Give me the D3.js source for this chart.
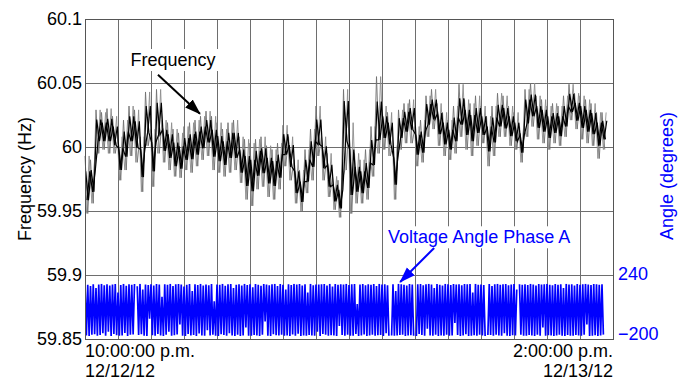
<!DOCTYPE html>
<html>
<head>
<meta charset="utf-8">
<script src="https://cdn.jsdelivr.net/npm/d3@7"></script>
<style>
  body { margin: 0; background: #fff; }
  svg text { font-family: "Liberation Sans", Arial, sans-serif; font-size: 18px; }
</style>
</head>
<body>
<div id="chart"></div>
<script>
// time span of the record
const startTime = new Date(2012, 11, 12, 22, 0);
const endTime = new Date(2012, 11, 13, 14, 0);

// frequency (Hz), one sample every 10 minutes: upper spike, lower spike, dense core
const freqStepMinutes = 10;
const freqHigh = [
  59.993, 59.990, 60.029, 60.027, 60.030, 60.024, 60.008, 60.021, 60.032, 60.029,
  60.008, 60.043, 60.014, 60.045, 60.021, 60.019, 60.014, 60.011, 60.016, 60.019,
  60.021, 60.024, 60.028, 60.024, 60.019, 60.014, 60.019, 60.021, 60.008, 60.006,
  60.003, 60.006, 60.008, 60.001, 59.998, 60.003, 60.017, 60.008, 59.990, 59.982,
  59.998, 60.014, 60.032, 60.008, 59.995, 59.977, 59.974, 60.045, 60.019, 59.995,
  59.990, 59.998, 60.016, 60.055, 60.032, 60.027, 60.001, 60.029, 60.034, 60.037,
  60.016, 60.021, 60.040, 60.045, 60.034, 60.027, 60.021, 60.032, 60.049, 60.037,
  60.034, 60.040, 60.032, 60.024, 60.032, 60.042, 60.040, 60.032, 60.027, 60.016,
  60.045, 60.050, 60.040, 60.037, 60.032, 60.034, 60.032, 60.040, 60.049, 60.042,
  60.040, 60.037, 60.034, 60.027, 60.027
];
const freqLow = [
  59.948, 59.956, 59.995, 59.998, 59.995, 59.995, 59.974, 59.982, 59.993, 59.988,
  59.965, 60.001, 59.969, 59.995, 59.988, 59.982, 59.977, 59.976, 59.982, 59.980,
  59.985, 59.990, 59.993, 59.982, 59.980, 59.977, 59.980, 59.982, 59.972, 59.959,
  59.954, 59.967, 59.969, 59.961, 59.959, 59.967, 59.985, 59.974, 59.956, 59.950,
  59.964, 59.974, 59.993, 59.974, 59.961, 59.951, 59.945, 59.982, 59.948, 59.956,
  59.956, 59.959, 59.977, 59.995, 59.998, 59.993, 59.959, 59.998, 60.003, 60.003,
  59.985, 59.988, 60.008, 60.014, 60.001, 59.993, 59.990, 59.995, 60.008, 59.998,
  59.993, 60.001, 60.003, 59.985, 59.993, 60.008, 60.008, 60.001, 59.998, 59.988,
  60.008, 60.016, 60.006, 60.003, 59.998, 60.003, 60.001, 60.008, 60.021, 60.014,
  60.006, 60.003, 60.001, 59.991, 59.998
];
const freqCore = [
  59.969, 59.974, 60.014, 60.011, 60.014, 60.008, 59.990, 60.003, 60.016, 60.011,
  59.988, 60.021, 59.993, 60.024, 60.006, 60.001, 59.993, 59.990, 59.998, 60.001,
  60.003, 60.008, 60.014, 60.003, 59.998, 59.995, 60.003, 60.001, 59.988, 59.980,
  59.977, 59.988, 59.990, 59.982, 59.980, 59.985, 60.003, 59.995, 59.972, 59.964,
  59.982, 59.995, 60.011, 59.993, 59.977, 59.964, 59.959, 60.027, 59.977, 59.974,
  59.972, 59.977, 59.995, 60.016, 60.016, 60.011, 59.982, 60.016, 60.021, 60.024,
  60.003, 60.003, 60.027, 60.029, 60.019, 60.011, 60.006, 60.014, 60.027, 60.021,
  60.016, 60.021, 60.016, 60.008, 60.014, 60.024, 60.021, 60.016, 60.011, 60.003,
  60.029, 60.032, 60.024, 60.021, 60.016, 60.019, 60.016, 60.024, 60.034, 60.027,
  60.024, 60.021, 60.019, 60.011, 60.014
];

// voltage angle phase A (degrees), one sample every 2.5 minutes, null = dropout
const angleStepMinutes = 2.5;
const angleValues = [
  178, -176, 172, -179, 165, -170, 177, -168, 150, -178,
  174, -172, 179, -160, 170, -177, 176, -150, 168, -179,
  175, -166, 178, -174, 120, -178, 171, -175, 179, -158,
  166, -179, 177, -171, 173, -169, 178, null, 162, -173,
  179, -168, 140, -177, 175, -179, 171, -60, 176, -174,
  168, -178, 178, -165, 174, -176, 90, -179, 177, -170,
  172, -150, 179, -178, 165, -174, 176, -169, 178, -100,
  175, -177, 160, -179, 173, -166, 178, -175, 130, -172,
  177, -179, 171, -162, 179, -176, 168, -178, 175, -140,
  170, -175, 178, -170, 60, -177, 174, -179, 172, -168,
  179, -173, 166, -178, 176, -160, 178, -176, 150, -179,
  173, -171, 177, -179, 168, -175, 179, -120, 171, -177,
  176, -178, 155, -172, 178, -176, 173, -179, 166, -170,
  178, -80, 175, -177, 170, -179, 177, -168, 179, -174,
  164, -176, 178, -171, 172, -178, 140, -175, 176, -179,
  171, -169, 179, -177, 175, -163, 178, -179, 168, -176,
  177, -178, 120, -172, 179, -175, 170, -178, 174, -150,
  175, -179, 176, -166, 178, -171, 167, -177, 179, -174,
  160, -176, 178, -179, 173, -110, 177, -172, 175, -178,
  179, -170, 171, -178, 176, -177, 178, -165, 40, -179,
  174, -175, 178, -169, 170, -179, 176, -176, 172, -171,
  178, -178, 165, -174, 179, -172, 174, -179, 177, -160,
  170, -177, null, -176, 176, -178, 130, -175, 179, -173,
  176, -170, 172, -179, 168, -176, 178, -174, 175, -178,
  null, -179, 177, -165, 178, -172, 170, -178, 176, -130,
  179, -176, 174, -178, 150, -171, 178, -179, 172, -175,
  167, -178, 179, -170, 176, -177, 171, -176, 178, -90,
  174, -172, 177, -179, 169, -175, 178, -168, 176, -179,
  178, -177, 120, -174, 179, -178, 173, -171, 175, -176,
  171, -179, null, -172, 178, -173, 165, -178, 177, -170,
  179, -175, 172, -178, 176, -160, 178, -177, 170, -179,
  175, -174, 178, -176, 140, null, 177, -171, 173, -178,
  176, -178, 171, -173, 179, -176, 174, -179, 168, -170,
  178, -177, 175, -120, 176, -178, 179, -174, 172, -176,
  170, -179, 178, -175, 173, -171, 177, -178, 150, -179,
  179, -172, 174, -178, 176, -177, 168, -173, 178, -176,
  173, -178, 177, -170, 179, -100, 175, -179, 171, -177,
  178, -174, 176, -179, 172, -175, 177, -170
];

// axes
const freqTicks = [59.85, 59.9, 59.95, 60, 60.05, 60.1];
const freqTickLabels = ["59.85", "59.9", "59.95", "60", "60.05", "60.1"];
const angleTicks = [-200, 240];
const angleTickLabels = ["\u2212200", "240"];
const timeTickLabels = [["10:00:00 p.m.", "12/12/12"], ["2:00:00 p.m.", "12/13/12"]];

const width = 683, height = 381;
const margin = { top: 19, right: 70, bottom: 42, left: 85 };
const blue = "#0000ff";
const grid = "#6e6e6e";

const svg = d3.select("#chart").append("svg")
  .attr("width", width)
  .attr("height", height);

const x = d3.scaleTime()
  .domain([startTime, endTime])
  .range([margin.left, width - margin.right]);
const y = d3.scaleLinear()
  .domain([59.85, 60.1])
  .range([height - margin.bottom, margin.top]);
const yAngle = d3.scaleLinear()
  .domain([-200, 240])
  .range([height - margin.bottom, y(59.9)]);

const minutes = (m) => new Date(startTime.getTime() + m * 60000);

// grid
const hours = d3.timeHour.range(startTime, d3.timeHour.offset(endTime, 1));
svg.append("g")
  .selectAll("line")
  .data(hours)
  .join("line")
    .attr("x1", d => Math.round(x(d)) + 0.5)
    .attr("x2", d => Math.round(x(d)) + 0.5)
    .attr("y1", margin.top)
    .attr("y2", height - margin.bottom)
    .attr("stroke", grid);
svg.append("g")
  .selectAll("line")
  .data(freqTicks)
  .join("line")
    .attr("x1", margin.left)
    .attr("x2", width - margin.right)
    .attr("y1", d => Math.round(y(d)) + 0.5)
    .attr("y2", d => Math.round(y(d)) + 0.5)
    .attr("stroke", grid);

// frequency trace: gray spikes between high/low, black core around freqCore
const line = d3.line().x(d => x(d[0])).y(d => y(d[1]));
const zig = (upper, lower, offset) => {
  const pts = [];
  upper.forEach((u, i) => {
    const t = i * freqStepMinutes + offset;
    pts.push([minutes(t), u]);
    pts.push([minutes(t + freqStepMinutes / 2), lower[i]]);
  });
  return pts;
};
const innerHigh = freqCore.map((c, i) => (c + freqHigh[i]) / 2);
const innerLow = freqCore.map((c, i) => (c + freqLow[i]) / 2);

const traces = [
  { pts: zig(freqHigh, freqLow, 0), stroke: "#707070", w: 0.9 },
  { pts: zig(freqLow, freqHigh, 2.5), stroke: "#8c8c8c", w: 0.9 },
  { pts: zig(innerHigh, innerLow, 1.25), stroke: "#000", w: 1.2 },
  { pts: zig(innerLow, innerHigh, 3.75), stroke: "#000", w: 1.2 }
];
svg.append("g")
  .selectAll("path")
  .data(traces)
  .join("path")
    .attr("d", d => line(d.pts))
    .attr("fill", "none")
    .attr("stroke", d => d.stroke)
    .attr("stroke-width", d => d.w);

// voltage angle
const angleLine = d3.line()
  .defined(d => d !== null)
  .x((d, i) => x(minutes(i * angleStepMinutes)))
  .y(d => yAngle(d));
svg.append("clipPath")
  .attr("id", "angle-clip")
  .append("rect")
    .attr("x", margin.left)
    .attr("y", yAngle(180))
    .attr("width", width - margin.left - margin.right)
    .attr("height", yAngle(-180) - yAngle(180));
svg.append("path")
  .attr("d", angleLine(angleValues))
  .attr("clip-path", "url(#angle-clip)")
  .attr("fill", "none")
  .attr("stroke", blue)
  .attr("stroke-width", 1.7);

// frame
svg.append("rect")
  .attr("x", margin.left + 0.5)
  .attr("y", margin.top + 0.5)
  .attr("width", width - margin.left - margin.right)
  .attr("height", height - margin.top - margin.bottom)
  .attr("fill", "none")
  .attr("stroke", "#555");

// left ticks
svg.append("g")
  .selectAll("text")
  .data(freqTicks)
  .join("text")
    .attr("x", margin.left - 3)
    .attr("y", d => y(d))
    .attr("dy", "0.35em")
    .attr("text-anchor", "end")
    .text((d, i) => freqTickLabels[i]);

// right ticks
svg.append("g")
  .selectAll("text")
  .data(angleTicks)
  .join("text")
    .attr("x", width - margin.right + 5)
    .attr("y", d => yAngle(d) - (d < 0 ? 5 : 1))
    .attr("dy", "0.35em")
    .attr("fill", blue)
    .text((d, i) => angleTickLabels[i]);

// time labels
const timeAxis = svg.append("g");
[startTime, endTime].forEach((t, i) => {
  const txt = timeAxis.append("text")
    .attr("x", x(t))
    .attr("y", height - margin.bottom + 18)
    .attr("text-anchor", i === 0 ? "start" : "end");
  timeTickLabels[i].forEach((s, k) => {
    txt.append("tspan")
      .attr("x", x(t))
      .attr("dy", k === 0 ? 0 : 20)
      .text(s);
  });
});

// axis titles
svg.append("text")
  .attr("transform", `translate(31,${(margin.top + height - margin.bottom) / 2}) rotate(-90)`)
  .attr("text-anchor", "middle")
  .text("Frequency (Hz)");
svg.append("text")
  .attr("transform", `translate(673,${(margin.top + height - margin.bottom) / 2 - 3}) rotate(-90)`)
  .attr("text-anchor", "middle")
  .attr("fill", blue)
  .text("Angle (degrees)");

// annotations
const defs = svg.append("defs");
[["arrow-black", "#000"], ["arrow-blue", blue]].forEach(([id, c]) => {
  defs.append("marker")
    .attr("id", id)
    .attr("viewBox", "0 -6 16 12")
    .attr("refX", 15)
    .attr("refY", 0)
    .attr("markerUnits", "userSpaceOnUse")
    .attr("markerWidth", 16)
    .attr("markerHeight", 12)
    .attr("orient", "auto")
    .append("path")
      .attr("d", "M0,-5.5 L16,0 L0,5.5 Z")
      .attr("fill", c);
});

const notes = [
  { label: "Frequency", time: minutes(209), value: 60.026, scale: y, color: "#000", marker: "arrow-black",
    tail: [-42, -39], text: [-27, -54] },
  { label: "Voltage Angle Phase A", time: minutes(573), value: 192, scale: yAngle, color: blue, marker: "arrow-blue",
    tail: [34, -34], text: [79, -45] }
];
notes.forEach(n => {
  const tx = x(n.time), ty = n.scale(n.value);
  const t = svg.append("text")
    .attr("x", tx + n.text[0])
    .attr("y", ty + n.text[1])
    .attr("dy", "0.35em")
    .attr("text-anchor", "middle")
    .attr("fill", n.color)
    .text(n.label);
  const bb = t.node().getBBox();
  svg.insert("rect", () => t.node())
    .attr("x", bb.x - 4)
    .attr("y", bb.y - 1)
    .attr("width", bb.width + 8)
    .attr("height", bb.height + 2)
    .attr("fill", "#fff");
  svg.append("line")
    .attr("x1", tx + n.tail[0])
    .attr("y1", ty + n.tail[1])
    .attr("x2", tx)
    .attr("y2", ty)
    .attr("stroke", n.color)
    .attr("stroke-width", 2)
    .attr("marker-end", `url(#${n.marker})`);
});
</script>
</body>
</html>
